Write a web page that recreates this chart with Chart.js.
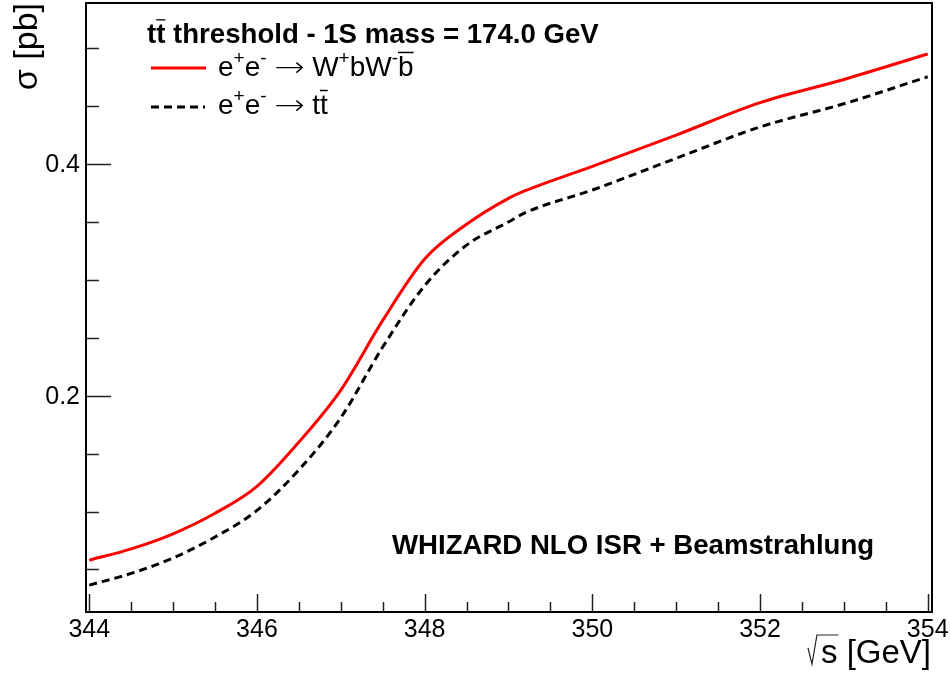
<!DOCTYPE html>
<html>
<head>
<meta charset="utf-8">
<script src="https://cdn.jsdelivr.net/npm/chart.js@4"></script>
<style>
  html, body { margin: 0; padding: 0; background: #fff; }
  canvas { display: block; }
</style>
</head>
<body>
<canvas id="c" width="950" height="675"></canvas>
<script>
// sqrt(s) in GeV
const SQRTS = [344, 344.5, 345, 345.5, 346, 346.5, 347, 347.5, 348, 348.5, 349, 349.2, 350, 351, 352, 353, 354];
// sigma [pb], e+e- -> W+bW-bbar (red)
const SIGMA_WBWB = [0.058, 0.0678, 0.0808, 0.0985, 0.1218, 0.160, 0.2049, 0.265, 0.318, 0.348, 0.3704, 0.377, 0.398, 0.425, 0.453, 0.473, 0.495];
// sigma [pb], e+e- -> ttbar (dashed)
const SIGMA_TT = [0.0365, 0.0466, 0.060, 0.078, 0.101, 0.136, 0.181, 0.242, 0.295, 0.330, 0.350, 0.358, 0.3776, 0.405, 0.432, 0.452, 0.4753];

const X_LABELS = [344, 346, 348, 350, 352, 354];
const Y_LABELS = [0.2, 0.4];
const X_RANGE = [343.961, 354.051];
const Y_RANGE = [0.0133, 0.539];

const FONT = '"Liberation Sans", Arial, Helvetica, sans-serif';

// draws text made of parts: [text, kind] with kind '' | 'sup' | 'bar' | 'arrow'
function drawRich(ctx, x, y, parts, size, weight) {
  let cx = x;
  parts.forEach(([t, kind]) => {
    if (kind === 'sup') {
      const s = Math.round(size * 0.68);
      ctx.font = `${weight} ${s}px ${FONT}`;
      ctx.fillText(t, cx, y - size * 0.42);
      cx += ctx.measureText(t).width;
    } else if (kind === 'arrow') {
      // thin latex-style right arrow
      const len = size * 1.0;
      const ay = y - size * 0.3;
      ctx.save();
      ctx.lineWidth = 1.4;
      ctx.beginPath();
      ctx.moveTo(cx + 2, ay);
      ctx.lineTo(cx + len, ay);
      ctx.moveTo(cx + len - 6, ay - 5);
      ctx.lineTo(cx + len, ay);
      ctx.lineTo(cx + len - 6, ay + 5);
      ctx.stroke();
      ctx.restore();
      cx += len + 2;
    } else {
      ctx.font = `${weight} ${size}px ${FONT}`;
      ctx.fillText(t, cx, y);
      const w = ctx.measureText(t).width;
      if (kind === 'bar') {
        ctx.save();
        ctx.lineWidth = 1.5;
        ctx.beginPath();
        ctx.moveTo(cx, y - size * 0.84);
        ctx.lineTo(cx + w, y - size * 0.84);
        ctx.stroke();
        ctx.restore();
      }
      cx += w;
    }
  });
  return cx;
}

const decor = {
  id: 'decor',
  afterDraw(chart) {
    const { ctx, chartArea: a, scales: { x, y } } = chart;
    ctx.save();
    ctx.fillStyle = '#000';
    ctx.strokeStyle = '#000';

    // frame
    ctx.lineWidth = 2;
    ctx.strokeRect(a.left, a.top, a.right - a.left, a.bottom - a.top);

    // x ticks (inward)
    ctx.strokeStyle = '#222';
    ctx.lineWidth = 1.5;
    for (let v = 344; v <= 354.001; v += 0.5) {
      const px = Math.round(x.getPixelForValue(v)) + 0.5;
      const major = X_LABELS.includes(Math.round(v * 10) / 10);
      ctx.beginPath();
      ctx.moveTo(px, a.bottom);
      ctx.lineTo(px, a.bottom - (major ? 18 : 10));
      ctx.stroke();
    }
    // y ticks (inward)
    for (let v = 0.05; v <= 0.5001; v += 0.05) {
      const py = Math.round(y.getPixelForValue(v)) + 0.5;
      const major = Y_LABELS.some(l => Math.abs(l - v) < 1e-6);
      ctx.beginPath();
      ctx.moveTo(a.left, py);
      ctx.lineTo(a.left + (major ? 25 : 13), py);
      ctx.stroke();
    }

    // tick labels
    ctx.font = `25px ${FONT}`;
    ctx.textAlign = 'center';
    ctx.textBaseline = 'alphabetic';
    X_LABELS.forEach(v => ctx.fillText(String(v), x.getPixelForValue(v), a.bottom + 25));
    ctx.textAlign = 'right';
    ctx.textBaseline = 'middle';
    Y_LABELS.forEach(v => ctx.fillText(v.toFixed(1), a.left - 6, y.getPixelForValue(v) + 1));

    // y title
    ctx.save();
    ctx.translate(37, a.top);
    ctx.rotate(-Math.PI / 2);
    ctx.textAlign = 'right';
    ctx.textBaseline = 'alphabetic';
    ctx.font = `34px ${FONT}`;
    ctx.fillText('\u03c3 [pb]', 0, 0);
    ctx.restore();

    // x title
    ctx.textAlign = 'right';
    ctx.textBaseline = 'alphabetic';
    ctx.font = `33px ${FONT}`;
    const xt = 's [GeV]';
    const xr = a.right - 1;
    const wt = ctx.measureText(xt).width;
    ctx.fillText(xt, xr, 663);
    const sx = xr - wt;
    const sw = ctx.measureText('s').width;
    ctx.lineWidth = 1.2;
    ctx.beginPath();
    ctx.moveTo(sx - 13, 648);
    ctx.lineTo(sx - 9, 664);
    ctx.lineTo(sx - 4, 635);
    ctx.lineTo(sx + sw + 1, 635);
    ctx.stroke();

    // header and legend
    ctx.textAlign = 'left';
    ctx.textBaseline = 'alphabetic';
    drawRich(ctx, 147, 43, [['t', ''], ['t', 'bar'], [' threshold - 1S mass = 174.0 GeV', '']], 27.6, 'bold');

    ctx.strokeStyle = '#ff0000';
    ctx.lineWidth = 3;
    ctx.beginPath();
    ctx.moveTo(151, 68);
    ctx.lineTo(206, 68);
    ctx.stroke();
    ctx.strokeStyle = '#000';
    drawRich(ctx, 218, 76, [['e', ''], ['+', 'sup'], ['e', ''], ['-', 'sup'], [' ', ''], ['', 'arrow'], [' W', ''], ['+', 'sup'], ['bW', ''], ['-', 'sup'], ['b', 'bar']], 28, 'normal');

    ctx.lineWidth = 3;
    ctx.setLineDash([8, 5]);
    ctx.beginPath();
    ctx.moveTo(151, 107);
    ctx.lineTo(205, 107);
    ctx.stroke();
    ctx.setLineDash([]);
    drawRich(ctx, 218, 114, [['e', ''], ['+', 'sup'], ['e', ''], ['-', 'sup'], [' ', ''], ['', 'arrow'], [' t', ''], ['t', 'bar']], 28, 'normal');

    ctx.font = `bold 27.6px ${FONT}`;
    ctx.fillText('WHIZARD NLO ISR + Beamstrahlung', 392, 554);
    ctx.restore();
  }
};

new Chart(document.getElementById('c'), {
  type: 'line',
  data: {
    datasets: [
      {
        data: SQRTS.map((v, i) => ({ x: v, y: SIGMA_WBWB[i] })),
        borderColor: '#ff0000',
        borderWidth: 3,
        pointRadius: 0,
        cubicInterpolationMode: 'monotone',
        fill: false
      },
      {
        data: SQRTS.map((v, i) => ({ x: v, y: SIGMA_TT[i] })),
        borderColor: '#000000',
        borderWidth: 3,
        borderDash: [8, 5],
        pointRadius: 0,
        cubicInterpolationMode: 'monotone',
        fill: false
      }
    ]
  },
  options: {
    responsive: false,
    animation: false,
    devicePixelRatio: 1,
    layout: { padding: { left: 86, right: 18, top: 3, bottom: 63 } },
    plugins: { legend: { display: false }, tooltip: { enabled: false } },
    scales: {
      x: { type: 'linear', min: X_RANGE[0], max: X_RANGE[1], display: false },
      y: { type: 'linear', min: Y_RANGE[0], max: Y_RANGE[1], display: false }
    }
  },
  plugins: [decor]
});
</script>
</body>
</html>
